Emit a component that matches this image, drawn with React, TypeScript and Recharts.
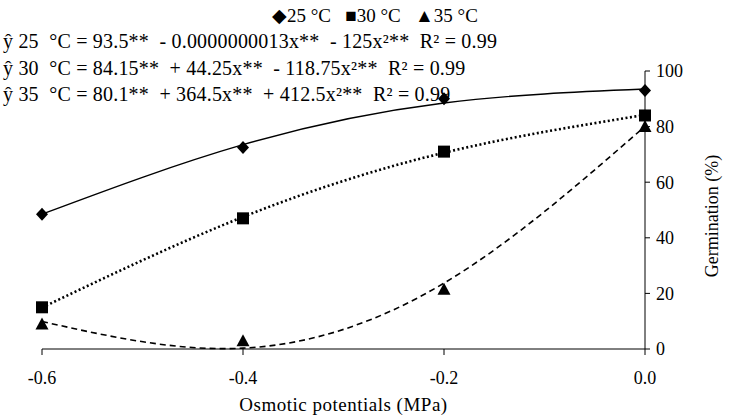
import { ComposedChart, Line, Scatter, XAxis, YAxis } from "recharts"

const potentials = [-0.6, -0.4, -0.2, 0]
const yTicks = [0, 20, 40, 60, 80, 100]

// observed germination (%)
const obs25 = [48.5, 72.5, 90, 93]
const obs30 = [15, 47, 71, 84]
const obs35 = [9, 3, 21.5, 80]

// fitted curve values at the same potentials
const fit25 = [48.5, 73.5, 88.5, 93.5]
const fit30 = [14.9, 47.5, 70.6, 84.2]
const fit35 = [9.9, 0.3, 23.7, 80.1]

const legendText = "\u25C625 °C   \u25A030 °C   \u25B235 °C"
const equations = [
  "ŷ 25  °C = 93.5**  - 0.0000000013x**  - 125x²**  R² = 0.99",
  "ŷ 30  °C = 84.15**  + 44.25x**  - 118.75x²**  R² = 0.99",
  "ŷ 35  °C = 80.1**  + 364.5x**  + 412.5x²**  R² = 0.99",
]

const rows = potentials.map((x, i) => ({
  x,
  o25: obs25[i],
  o30: obs30[i],
  o35: obs35[i],
  f25: fit25[i],
  f30: fit30[i],
  f35: fit35[i],
}))

const font = "Liberation Serif, Liberation Sans, serif"

const Diamond = (p: any) => (
  <path d={`M${p.cx},${p.cy - 6.5}L${p.cx + 6},${p.cy}L${p.cx},${p.cy + 6.5}L${p.cx - 6},${p.cy}Z`} fill="#000" />
)
const Square = (p: any) => <rect x={p.cx - 6} y={p.cy - 6} width={12} height={12} fill="#000" />
const Triangle = (p: any) => (
  <path d={`M${p.cx},${p.cy - 6.5}L${p.cx + 6.5},${p.cy + 5.5}L${p.cx - 6.5},${p.cy + 5.5}Z`} fill="#000" />
)

export default function App() {
  return (
    <div style={{ position: "relative", width: 738, height: 415, background: "#fff", fontFamily: font }}>
      <style>{"body{margin:0}"}</style>
      <ComposedChart width={738} height={415} data={rows} margin={{ top: 71, right: 0, bottom: 0, left: 42 }}>
        <XAxis
          dataKey="x"
          type="number"
          domain={[-0.6, 0]}
          ticks={potentials}
          tickFormatter={(v: number) => v.toFixed(1)}
          stroke="#000"
          tick={{ fill: "#000", fontSize: 18, fontFamily: font }}
          tickSize={6}
          tickMargin={16}
          height={66}
          label={{ value: "Osmotic potentials (MPa)", position: "insideBottom", offset: 4, fill: "#000", fontSize: 19, letterSpacing: 0.5, fontFamily: font }}
        />
        <YAxis
          orientation="right"
          type="number"
          domain={[0, 100]}
          ticks={yTicks}
          stroke="#000"
          tick={{ fill: "#000", fontSize: 18, fontFamily: font }}
          tickSize={5}
          tickMargin={6}
          width={93}
          label={{ value: "Germination  (%)", angle: -90, position: "center", dx: 20, dy: 6, fill: "#000", fontSize: 18, fontFamily: font }}
        />
        <Line dataKey="f25" type="natural" stroke="#000" strokeWidth={1.4} dot={false} isAnimationActive={false} />
        <Line dataKey="f30" type="natural" stroke="#000" strokeWidth={2.6} strokeDasharray="2 2.5" dot={false} isAnimationActive={false} />
        <Line dataKey="f35" type="natural" stroke="#000" strokeWidth={1.6} strokeDasharray="6 4" dot={false} isAnimationActive={false} />
        <Scatter dataKey="o25" shape={Diamond} isAnimationActive={false} />
        <Scatter dataKey="o30" shape={Square} isAnimationActive={false} />
        <Scatter dataKey="o35" shape={Triangle} isAnimationActive={false} />
      </ComposedChart>
      <div style={{ position: "absolute", left: 272, top: 4, fontSize: 19, whiteSpace: "pre", color: "#000" }}>{legendText}</div>
      {equations.map((eq, i) => (
        <div key={i} style={{ position: "absolute", left: 3, top: 30 + i * 26.5, fontSize: 20, letterSpacing: 0.2, whiteSpace: "pre", color: "#000" }}>
          {eq}
        </div>
      ))}
    </div>
  )
}
